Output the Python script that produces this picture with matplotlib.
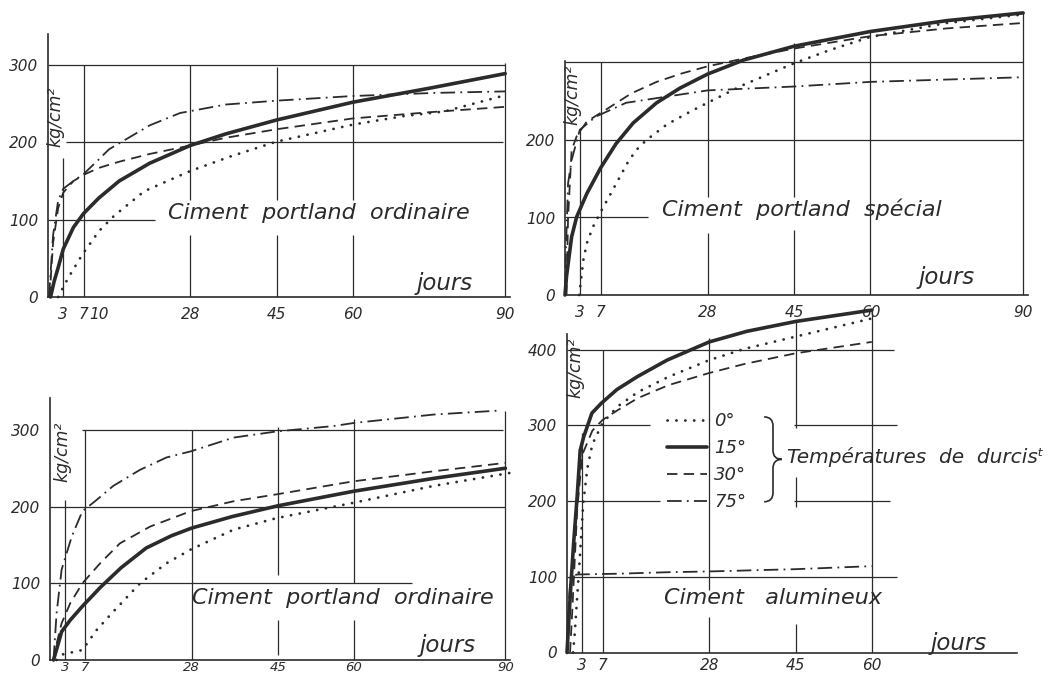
import matplotlib
matplotlib.use('Agg')
import matplotlib.pyplot as plt
from matplotlib.lines import Line2D
from matplotlib.path import Path
from matplotlib.patches import PathPatch

# --- data (days, kg/cm2) ---
# curing temperatures: 0, 15, 30, 75 deg
temps = ['0°', '15°', '30°', '75°']

# top left: ciment portland ordinaire
a_days_0 = [2, 2.7, 4, 5.3, 6.3, 7.3, 8.5, 10, 13, 19, 28, 36, 45, 60, 70, 78, 90]
a_kg_0 = [0, 9, 25, 39, 50, 60, 71, 85, 105, 137, 163, 182, 201, 223, 234, 240, 261]
a_days_15 = [0.5, 1.2, 2, 3, 5, 7, 10, 14, 20, 28, 35, 45, 60, 75, 90]
a_kg_15 = [0, 20, 38, 62, 90, 108, 128, 150, 173, 196, 211, 229, 252, 270, 289]
a_days_30 = [0.3, 1, 2, 3, 5, 7, 10, 14, 20, 28, 35, 45, 60, 75, 90]
a_kg_30 = [0, 70, 115, 135, 150, 158, 167, 175, 185, 196, 206, 217, 231, 239, 246]
a_days_75 = [0.2, 1, 2, 3, 5, 7, 10, 12, 20, 26, 35, 45, 60, 76, 90]
a_kg_75 = [0, 80, 125, 140, 150, 159, 178, 191, 222, 238, 249, 254, 260, 264, 266]

# top right: ciment portland special
b_days_0 = [2.8, 3.6, 4.3, 5.5, 7, 8.5, 10, 12.4, 14, 16, 20, 25, 28, 35, 45, 52, 60, 75, 90]
b_kg_0 = [0, 45, 67, 88, 107, 125, 143, 172, 187, 200, 220, 238, 248, 271, 299, 316, 333, 351, 362]
b_days_15 = [0, 0.3, 1.3, 2.3, 4.3, 7, 10, 13.4, 18, 22.6, 28, 35, 45, 60, 75, 90]
b_kg_15 = [0, 24, 75, 101, 131, 164, 195, 222, 248, 267, 285, 303, 321, 340, 354, 364]
b_days_30 = [0.3, 0.6, 1.3, 2.3, 4.3, 8, 13, 18, 23, 28, 35, 45, 60, 75, 90]
b_kg_30 = [0, 100, 187, 205, 224, 239, 260, 275, 286, 295, 305, 318, 334, 344, 351]
b_days_75 = [0, 0.2, 0.6, 1.3, 2.9, 6, 12, 18, 28, 45, 60, 75, 90]
b_kg_75 = [0, 62, 144, 174, 213, 230, 248, 254, 264, 269, 275, 278, 281]

# bottom left: ciment portland ordinaire
c_days_0 = [1.3, 2.3, 6.4, 9.2, 12.5, 17.8, 23, 27.8, 36.3, 44.8, 60, 75.8, 91]
c_kg_0 = [0, 7, 13, 39, 63, 100, 126, 144, 170, 185, 205, 227, 244]
c_days_15 = [0.7, 2.3, 4, 6.4, 10, 14, 19, 24, 28, 36, 45, 60, 76, 90]
c_kg_15 = [0, 37, 52, 70, 95, 120, 146, 162, 172, 187, 201, 220, 237, 250]
c_days_30 = [0.7, 1, 2.3, 4, 6.4, 9.9, 13.8, 19.8, 27.8, 36.3, 44.8, 60, 75.8, 90]
c_kg_30 = [0, 13, 48, 74, 100, 126, 152, 174, 194, 207, 216, 233, 246, 257]
c_days_75 = [0.7, 1.3, 2.3, 4.3, 6.4, 8.9, 12.5, 17.8, 23, 27.8, 36.3, 44.8, 56, 60, 75.8, 88.3]
c_kg_75 = [0, 61, 118, 161, 194, 207, 227, 248, 264, 272, 290, 298, 305, 309, 320, 325]

# bottom right: ciment alumineux
d_days_0 = [1.2, 1.5, 2.5, 3.2, 4, 5, 7, 10, 14, 20, 28, 35, 45, 60]
d_kg_0 = [0, 23, 123, 197, 243, 275, 303, 325, 344, 364, 386, 401, 417, 441]
d_days_15 = [0, 0.66, 1.3, 2, 2.6, 3.3, 4.9, 6.75, 9.8, 13.8, 19.7, 28, 35.4, 45, 60]
d_kg_15 = [0, 78, 144, 206, 267, 285, 316, 329, 347, 364, 386, 410, 424, 437, 452]
d_days_30 = [0.6, 1, 2, 3, 5, 7, 10, 14, 20, 28, 35, 45, 60]
d_kg_30 = [0, 50, 188, 261, 293, 307, 320, 336, 353, 369, 381, 395, 410]
d_days_75 = [0, 0.3, 0.7, 2, 10, 20, 28, 45, 60]
d_kg_75 = [0, 60, 100, 103, 104, 106, 107, 110, 114]

W, H = 1059, 675
INK = '#2b2b2b'
plt.rcParams['font.family'] = 'DejaVu Sans'
plt.rcParams['lines.scale_dashes'] = False

styles = {
    '0°': dict(lw=2.0, ls=(0, (0.1, 6.3)), dash_capstyle='round'),
    '15°': dict(lw=2.6, ls='-', solid_capstyle='round'),
    '30°': dict(lw=1.3, ls=(0, (7.5, 4.5))),
    '75°': dict(lw=1.3, ls=(0, (10.5, 3.8, 1.3, 3.8))),
}

fig = plt.figure(figsize=(W / 100, H / 100), dpi=100)
fig.patch.set_facecolor('white')


def make_axes(x0, sx, y0, sy, xmax, ymax, xticks, yticks, ytop=None, xpad=7, xsize=11):
    # x0,y0 = pixel of the origin, sx/sy = pixels per unit
    ax = fig.add_axes([x0 / W, (H - y0) / H, xmax * sx / W, ymax * sy / H])
    ax.set_xlim(0, xmax)
    ax.set_ylim(0, ymax)
    ax.patch.set_visible(False)
    for s in ('top', 'right'):
        ax.spines[s].set_visible(False)
    for s in ('left', 'bottom'):
        ax.spines[s].set_color(INK)
        ax.spines[s].set_linewidth(1.2)
    if ytop is not None:
        ax.spines['left'].set_bounds(0, ytop)
    ax.set_xticks(xticks)
    ax.set_yticks(yticks)
    ax.tick_params(length=0, pad=7, labelsize=11, colors=INK)
    ax.tick_params(axis='x', pad=xpad, labelsize=xsize)
    for lbl in ax.get_xticklabels() + ax.get_yticklabels():
        lbl.set_style('italic')
    return ax


def grid(ax, hsegs, vsegs):
    for y, x1, x2 in hsegs:
        ax.hlines(y, x1, x2, color=INK, lw=0.9)
    for x, y1, y2 in vsegs:
        ax.vlines(x, y1, y2, color=INK, lw=0.9)


def curves(ax, series):
    for key, (xs, ys) in zip(temps, series):
        ax.plot(xs, ys, color=INK, clip_on=False, **styles[key])


def labels(ax, title, tpos, jpos, kpos):
    ax.text(tpos[0], tpos[1], title, fontsize=16, style='italic', color=INK,
            ha='left', va='center')
    ax.text(jpos[0], jpos[1], 'jours', fontsize=16.5, style='italic', color=INK,
            ha='left', va='center')
    ax.text(kpos[0], kpos[1], 'kg/cm²', fontsize=12.5, style='italic', color=INK,
            rotation=90, ha='center', va='center')


# top left
ax1 = make_axes(48, 5.08, 297, 0.773, 91, 340, [3, 7, 10, 28, 45, 60, 90], [0, 100, 200, 300])
grid(ax1,
     [(100, 0, 21), (200, 3.5, 89.5), (300, 0, 90)],
     [(3, 0, 180), (7, 0, 300), (28, 0, 80), (28, 125, 300), (45, 0, 80), (45, 125, 298),
      (60, 0, 80), (60, 125, 300), (90, 0, 303)])
curves(ax1, [(a_days_0, a_kg_0), (a_days_15, a_kg_15), (a_days_30, a_kg_30), (a_days_75, a_kg_75)])
labels(ax1, 'Ciment  portland  ordinaire', (23.6, 109), (72.6, 18), (1.4, 233))

# top right
ax2 = make_axes(565, 5.09, 295, 0.775, 91, 372, [3, 7, 28, 45, 60, 90], [0, 100, 200], ytop=302)
grid(ax2,
     [(100, 0, 16.4), (200, 0, 90), (300, 0, 90)],
     [(3, 0, 215), (7, 0, 300), (28, 0, 80), (28, 127, 300), (45, 0, 84), (45, 127, 325),
      (60, 0, 340), (90, 0, 365)])
curves(ax2, [(b_days_0, b_kg_0), (b_days_15, b_kg_15), (b_days_30, b_kg_30), (b_days_75, b_kg_75)])
labels(ax2, 'Ciment  portland  spécial', (19, 110), (69.4, 22), (1.4, 258))

# bottom left (tick labels squeezed against the bottom edge as in the page)
ax3 = make_axes(50, 5.06, 660, 0.767, 91, 342, [3, 7, 28, 45, 60, 90], [0, 100, 200, 300],
                xpad=0.5, xsize=9.5)
grid(ax3,
     [(100, 0, 71.5), (200, 0, 90), (300, 6.4, 89.5)],
     [(3, 0, 209), (7, 0, 300), (28, 0, 300), (45, 7, 52), (45, 111, 304),
      (60, 0, 52), (60, 100, 314), (90, 0, 325)])
curves(ax3, [(c_days_0, c_kg_0), (c_days_15, c_kg_15), (c_days_30, c_kg_30), (c_days_75, c_kg_75)])
labels(ax3, 'Ciment  portland  ordinaire', (28, 81), (73.1, 19.5), (2.4, 272))

# bottom right
ax4 = make_axes(567, 5.08, 652.5, 0.7575, 88.5, 455, [3, 7, 28, 45, 60], [0, 100, 200, 300, 400],
                ytop=420, xpad=4)
grid(ax4,
     [(100, 0, 65), (200, 0, 18.4), (200, 44.6, 63.6), (300, 0, 16.4), (300, 44.6, 65),
      (400, 0, 64.3)],
     [(3, 0, 290), (7, 0, 400), (28, 0, 47), (28, 82, 415), (45, 0, 38), (45, 192, 232),
      (45, 297, 436), (60, 0, 450)])
curves(ax4, [(d_days_0, d_kg_0), (d_days_15, d_kg_15), (d_days_30, d_kg_30), (d_days_75, d_kg_75)])
labels(ax4, 'Ciment   alumineux', (19, 72), (71.5, 12.5), (1.6, 376))

# legend for the curing temperatures
handles = [Line2D([], [], color=INK, **styles[k]) for k in temps]
leg = ax4.legend(handles, temps, loc='upper left', bbox_to_anchor=(19.7, 317),
                 bbox_transform=ax4.transData, frameon=False, borderpad=0,
                 borderaxespad=0, handlelength=2.2, handletextpad=0.4,
                 labelspacing=0.5, fontsize=13)
for t in leg.get_texts():
    t.set_style('italic')
    t.set_color(INK)

# brace joining the four entries
bx, bw, b0, b1 = 38.8, 3.5, 199, 311
bm, bd = (b0 + b1) / 2, 12
verts = [(bx, b1), (bx + bw / 2, b1), (bx + bw / 2, b1 - bd), (bx + bw / 2, bm + bd),
         (bx + bw / 2, bm), (bx + bw, bm),
         (bx + bw, bm), (bx + bw / 2, bm), (bx + bw / 2, bm - bd), (bx + bw / 2, b0 + bd),
         (bx + bw / 2, b0), (bx, b0)]
codes = [Path.MOVETO, Path.CURVE3, Path.CURVE3, Path.LINETO, Path.CURVE3, Path.CURVE3,
         Path.MOVETO, Path.CURVE3, Path.CURVE3, Path.LINETO, Path.CURVE3, Path.CURVE3]
ax4.add_patch(PathPatch(Path(verts, codes), fill=False, ec=INK, lw=1.2, clip_on=False))
ax4.text(43.3, 258, 'Températures  de  durcisᵗ', fontsize=14.5, style='italic', color=INK,
         ha='left', va='center', clip_on=False)

fig.savefig('out.png', dpi=100, facecolor='white')
